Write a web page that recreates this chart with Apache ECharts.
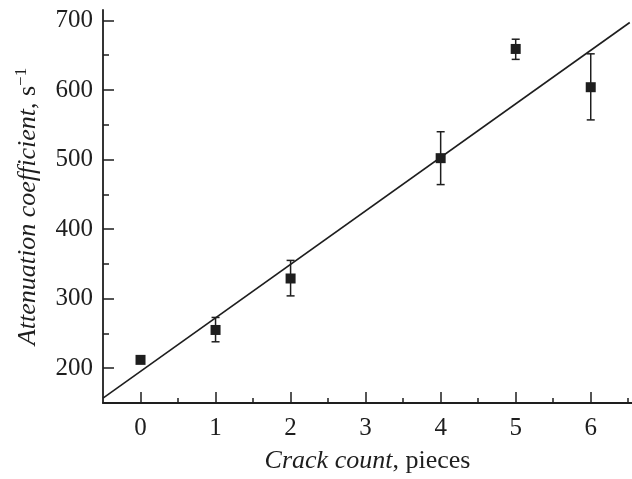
<!DOCTYPE html>
<html>
<head>
<meta charset="utf-8">
<script src="https://cdn.jsdelivr.net/npm/echarts@6/dist/echarts.min.js"></script>
<style>html,body{margin:0;padding:0;background:#fff}#c{width:632px;height:479px}</style>
</head>
<body>
<div id="c"></div>
<script>
// Data
const crackCount = [0, 1, 2, 4, 5, 6];
const attenuation = [212, 255, 329, 502, 659, 604];
const errLow = [212, 238, 304, 464, 644, 557];
const errHigh = [212, 273, 355, 540, 673, 652];
const fitX = [-0.5, 6.52];
const fitY = [157, 697];
const xMajorTicks = [0, 1, 2, 3, 4, 5, 6];
const xMinorTicks = [0.5, 1.5, 2.5, 3.5, 4.5, 5.5, 6.5];
const yMajorTicks = [200, 300, 400, 500, 600, 700];
const yMinorTicks = [250, 350, 450, 550, 650];

const INK = '#1e1e1e';
const FONT = 'Liberation Serif';

const chart = echarts.init(document.getElementById('c'));
chart.setOption({
  animation: false,
  backgroundColor: '#fff',
  grid: { left: 103, right: 0, top: 10, bottom: 72, containLabel: false },
  xAxis: [
    {
      type: 'value', min: -0.5, max: 6.55, position: 'bottom',
      axisLine: { show: true, onZero: false, lineStyle: { color: INK, width: 1.8 } },
      splitLine: { show: false },
      axisTick: { show: true, inside: true, length: 11, customValues: xMajorTicks, lineStyle: { color: INK, width: 1.5 } },
      axisLabel: { show: true, customValues: xMajorTicks, margin: 13, color: INK, fontFamily: FONT, fontSize: 25 },
      name: '{i|Crack count}{n|, pieces}',
      nameLocation: 'middle', nameGap: 45,
      nameTextStyle: {
        rich: {
          i: { fontFamily: FONT, fontStyle: 'italic', fontSize: 26, color: INK },
          n: { fontFamily: FONT, fontSize: 26, color: INK }
        }
      }
    },
    {
      type: 'value', min: -0.5, max: 6.55, position: 'bottom',
      axisLine: { show: false, onZero: false },
      splitLine: { show: false },
      axisTick: { show: true, inside: true, length: 5, customValues: xMinorTicks, lineStyle: { color: INK, width: 1.5 } },
      axisLabel: { show: false }
    }
  ],
  yAxis: [
    {
      type: 'value', min: 150, max: 715, position: 'left',
      axisLine: { show: true, onZero: false, lineStyle: { color: INK, width: 1.8 } },
      splitLine: { show: false },
      axisTick: { show: true, inside: true, length: 11, customValues: yMajorTicks, lineStyle: { color: INK, width: 1.5 } },
      axisLabel: { show: true, customValues: yMajorTicks, margin: 10, color: INK, fontFamily: FONT, fontSize: 25 },
      name: '{i|Attenuation coefficient}{n|, s}{sup|−1}',
      nameLocation: 'middle', nameRotate: 90, nameGap: 60,
      nameTextStyle: {
        rich: {
          i: { fontFamily: FONT, fontStyle: 'italic', fontSize: 26, color: INK, lineHeight: 30 },
          n: { fontFamily: FONT, fontSize: 26, color: INK, lineHeight: 30 },
          sup: { fontFamily: FONT, fontSize: 17, color: INK, verticalAlign: 'top', lineHeight: 30, padding: [0, 0, 12, 0] }
        }
      }
    },
    {
      type: 'value', min: 150, max: 715, position: 'left', offset: 0,
      axisLine: { show: false, onZero: false },
      splitLine: { show: false },
      axisTick: { show: true, inside: true, length: 6, customValues: yMinorTicks, lineStyle: { color: INK, width: 1.5 } },
      axisLabel: { show: false }
    }
  ],
  series: [
    {
      type: 'line', xAxisIndex: 0, yAxisIndex: 0,
      data: fitX.map((x, i) => [x, fitY[i]]),
      showSymbol: false, symbol: 'none',
      lineStyle: { color: INK, width: 1.6 }, clip: true, z: 2
    },
    {
      type: 'custom', xAxisIndex: 0, yAxisIndex: 0, z: 3,
      data: crackCount.map((x, i) => [x, errLow[i], errHigh[i]]),
      renderItem: function (params, api) {
        const x = api.value(0);
        const lo = api.coord([x, api.value(1)]);
        const hi = api.coord([x, api.value(2)]);
        if (Math.abs(hi[1] - lo[1]) < 1) return { type: 'group', children: [] };
        const w = 4;
        const style = { stroke: INK, lineWidth: 1.5 };
        return {
          type: 'group',
          children: [
            { type: 'line', shape: { x1: lo[0], y1: lo[1], x2: hi[0], y2: hi[1] }, style },
            { type: 'line', shape: { x1: lo[0] - w, y1: lo[1], x2: lo[0] + w, y2: lo[1] }, style },
            { type: 'line', shape: { x1: hi[0] - w, y1: hi[1], x2: hi[0] + w, y2: hi[1] }, style }
          ]
        };
      }
    },
    {
      type: 'scatter', xAxisIndex: 0, yAxisIndex: 0, z: 4,
      data: crackCount.map((x, i) => [x, attenuation[i]]),
      symbol: 'rect', symbolSize: 10,
      itemStyle: { color: INK, opacity: 1 }
    }
  ]
});
</script>
</body>
</html>
